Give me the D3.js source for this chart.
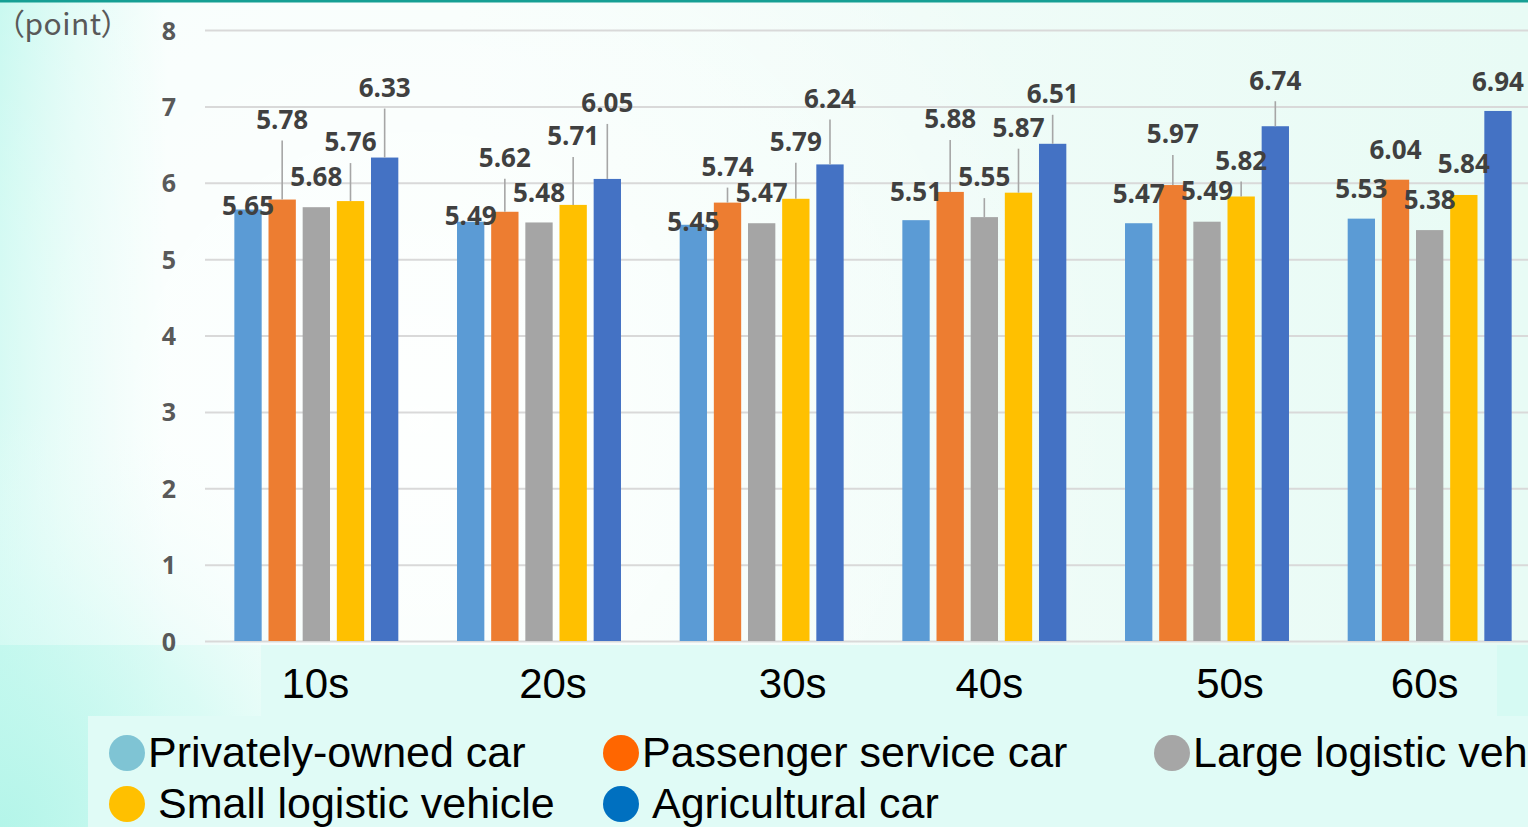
<!DOCTYPE html>
<html>
<head>
<meta charset="utf-8">
<script src="https://cdn.jsdelivr.net/npm/d3@7/dist/d3.min.js"></script>
<style>
  html, body { margin: 0; padding: 0; overflow: hidden; background: #ffffff; }
  svg { display: block; }
</style>
</head>
<body>
<svg id="chart" width="1528" height="827"></svg>
<script>
// Age groups on the x axis
const ageGroups = ["10s", "20s", "30s", "40s", "50s", "60s"];

// Vehicle types (series)
const seriesNames = [
  "Privately-owned car",
  "Passenger service car",
  "Large logistic vehicle",
  "Small logistic vehicle",
  "Agricultural car"
];

// Scores per series, one value per age group
const privatelyOwned   = [5.65, 5.49, 5.45, 5.51, 5.47, 5.53];
const passengerService = [5.78, 5.62, 5.74, 5.88, 5.97, 6.04];
const largeLogistic    = [5.68, 5.48, 5.47, 5.55, 5.49, 5.38];
const smallLogistic    = [5.76, 5.71, 5.79, 5.87, 5.82, 5.84];
const agricultural     = [6.33, 6.05, 6.24, 6.51, 6.74, 6.94];

const seriesValues = [privatelyOwned, passengerService, largeLogistic, smallLogistic, agricultural];

// Y axis ticks
const yTicks = [0, 1, 2, 3, 4, 5, 6, 7, 8];

// Colours
const barColors    = ["#5B9BD5", "#ED7D31", "#A5A5A5", "#FFC000", "#4472C4"];
const legendColors = ["#7FC4D4", "#FF6600", "#A6A6A6", "#FFC000", "#0070C0"];

// How far each data label sits above its bar (px), per age group, per series
const labelLift = [
  [4, 80, 31, 59, 70],
  [6, 54, 30, 69, 76],
  [3, 36, 31, 57, 66],
  [29, 73, 40, 65, 50],
  [30, 51, 31, 36, 46],
  [30, 30, 30, 31, 29]
];
// Horizontal nudges for the category captions
const captionNudge = [-1, 14, 31, 5, 23, -5];

const W = 1528, H = 827;
const svg = d3.select("#chart");
const defs = svg.append("defs");

// ---------- background ----------
const bgGrad = defs.append("linearGradient").attr("id", "bg").attr("x1", 0).attr("x2", 1).attr("y1", 0).attr("y2", 0);
[["0", "#C2F8EE"], ["0.05", "#DDFBF5"], ["0.11", "#F6FEFC"], ["0.3", "#F6FEFB"], ["0.6", "#F0FCF8"], ["1", "#E8FBF5"]]
  .forEach(([o, c]) => bgGrad.append("stop").attr("offset", o).attr("stop-color", c));
svg.append("rect").attr("width", W).attr("height", H).attr("fill", "url(#bg)");

// cyan glow in the lower-left corner
const glow = defs.append("radialGradient").attr("id", "glow")
  .attr("gradientUnits", "userSpaceOnUse").attr("cx", 0).attr("cy", 827).attr("r", 420);
glow.append("stop").attr("offset", "0").attr("stop-color", "#B4F5E9").attr("stop-opacity", 1);
glow.append("stop").attr("offset", "0.55").attr("stop-color", "#C8F9F0").attr("stop-opacity", 0.6);
glow.append("stop").attr("offset", "1").attr("stop-color", "#E8FCF8").attr("stop-opacity", 0);
svg.append("rect").attr("width", W).attr("height", H).attr("fill", "url(#glow)");

// soft whitish haze behind the plot
const haze = defs.append("radialGradient").attr("id", "haze")
  .attr("gradientUnits", "userSpaceOnUse").attr("cx", 420).attr("cy", 420).attr("r", 700);
haze.append("stop").attr("offset", "0").attr("stop-color", "#FFFFFF").attr("stop-opacity", 0.85);
haze.append("stop").attr("offset", "1").attr("stop-color", "#FFFFFF").attr("stop-opacity", 0);
svg.append("rect").attr("width", W).attr("height", 645).attr("fill", "url(#haze)");

// caption band and legend band
svg.append("rect").attr("x", 1497).attr("y", 645).attr("width", W - 1497).attr("height", 71).attr("fill", "#D6FAF3");
svg.append("rect").attr("x", 261).attr("y", 645).attr("width", 1236).attr("height", 71).attr("fill", "#E0FBF6");
svg.append("rect").attr("x", 88).attr("y", 716).attr("width", W - 88).attr("height", H - 716).attr("fill", "#E0FBF6");

// top accent line
svg.append("rect").attr("x", 0).attr("y", 0).attr("width", W).attr("height", 2.5).attr("fill", "#169F94");

// ---------- scales ----------
const plotLeft = 205, plotRight = 1541, plotTop = 30, plotBottom = 641;

const x0 = d3.scaleBand().domain(ageGroups).range([plotLeft, plotRight])
  .paddingInner(0.2636).paddingOuter(0.1318);
const x1 = d3.scaleBand().domain(d3.range(seriesNames.length)).range([0, x0.bandwidth()])
  .paddingInner(0.2).paddingOuter(0);
const y = d3.scaleLinear().domain([0, 8]).range([plotBottom, plotTop]);

// ---------- grid + y axis ----------
const yAxis = svg.append("g")
  .attr("transform", `translate(${plotLeft},0)`)
  .call(d3.axisLeft(y).tickValues(yTicks).tickSize(-(W - plotLeft)).tickFormat(d3.format("d")));
yAxis.select(".domain").remove();
yAxis.selectAll(".tick line").attr("stroke", "#D9D9D9").attr("stroke-width", 2);
yAxis.selectAll(".tick text")
  .attr("x", -36).attr("dy", "0.36em")
  .attr("text-anchor", "middle")
  .attr("font-family", "'Open Sans', sans-serif")
  .attr("font-weight", 700)
  .attr("font-size", 25)
  .attr("fill", "#595959");

// unit caption
svg.append("text")
  .attr("x", 9).attr("y", 35)
  .attr("font-family", "'Noto Sans CJK JP', 'Noto Sans', sans-serif")
  .style("font-feature-settings", "'palt'")
  .attr("font-size", 30)
  .attr("letter-spacing", 0.5)
  .attr("fill", "#595959")
  .text("（point）");

// ---------- bars ----------
const rows = [];
ageGroups.forEach((g, gi) => {
  seriesValues.forEach((vals, si) => {
    rows.push({ group: g, gi, si, value: vals[gi], lift: labelLift[gi][si] });
  });
});

const groups = svg.append("g");
groups.selectAll("rect.bar")
  .data(rows)
  .join("rect")
  .attr("class", "bar")
  .attr("x", d => x0(d.group) + x1(d.si))
  .attr("width", x1.bandwidth())
  .attr("y", d => y(d.value))
  .attr("height", d => y(0) - y(d.value))
  .attr("fill", d => barColors[d.si]);

// leader lines for labels that sit well above their bar
groups.selectAll("line.leader")
  .data(rows.filter(d => d.lift > 33))
  .join("line")
  .attr("class", "leader")
  .attr("x1", d => x0(d.group) + x1(d.si) + x1.bandwidth() / 2)
  .attr("x2", d => x0(d.group) + x1(d.si) + x1.bandwidth() / 2)
  .attr("y1", d => y(d.value) - d.lift + 21)
  .attr("y2", d => y(d.value))
  .attr("stroke", "#A6A6A6")
  .attr("stroke-width", 1.6);

// value labels
groups.selectAll("text.value")
  .data(rows)
  .join("text")
  .attr("class", "value")
  .attr("x", d => x0(d.group) + x1(d.si) + x1.bandwidth() / 2)
  .attr("y", d => y(d.value) - d.lift)
  .attr("dy", "0.36em")
  .attr("text-anchor", "middle")
  .attr("font-family", "'Open Sans', sans-serif")
  .attr("font-weight", 700)
  .attr("font-size", 26)
  .attr("fill", "#404040")
  .text(d => d.value.toFixed(2));

// ---------- x axis captions ----------
const xAxis = svg.append("g")
  .attr("transform", `translate(0,${plotBottom})`)
  .call(d3.axisBottom(x0).tickSize(0));
xAxis.select(".domain").remove();
xAxis.selectAll(".tick text")
  .attr("x", (d, i) => captionNudge[i])
  .attr("y", 57)
  .attr("dy", 0)
  .attr("font-family", "'Liberation Sans', Arial, sans-serif")
  .attr("font-size", 42)
  .attr("fill", "#000000");

// ---------- legend ----------
const legendCols = [127, 621, 1172];
const legendRows = [767, 818];
const legend = svg.append("g");
const items = legend.selectAll("g.item")
  .data(seriesNames.map((name, i) => ({ name, i, col: i % 3, row: Math.floor(i / 3) })))
  .join("g")
  .attr("class", "item");
items.append("circle")
  .attr("cx", d => legendCols[d.col])
  .attr("cy", d => legendRows[d.row] - 14)
  .attr("r", 18)
  .attr("fill", d => legendColors[d.i]);
items.append("text")
  .attr("x", d => legendCols[d.col] + (d.row === 0 ? 21 : 31))
  .attr("y", d => legendRows[d.row])
  .attr("font-family", "'Liberation Sans', Arial, sans-serif")
  .attr("font-size", 43)
  .attr("fill", "#000000")
  .text(d => d.name);
</script>
</body>
</html>
